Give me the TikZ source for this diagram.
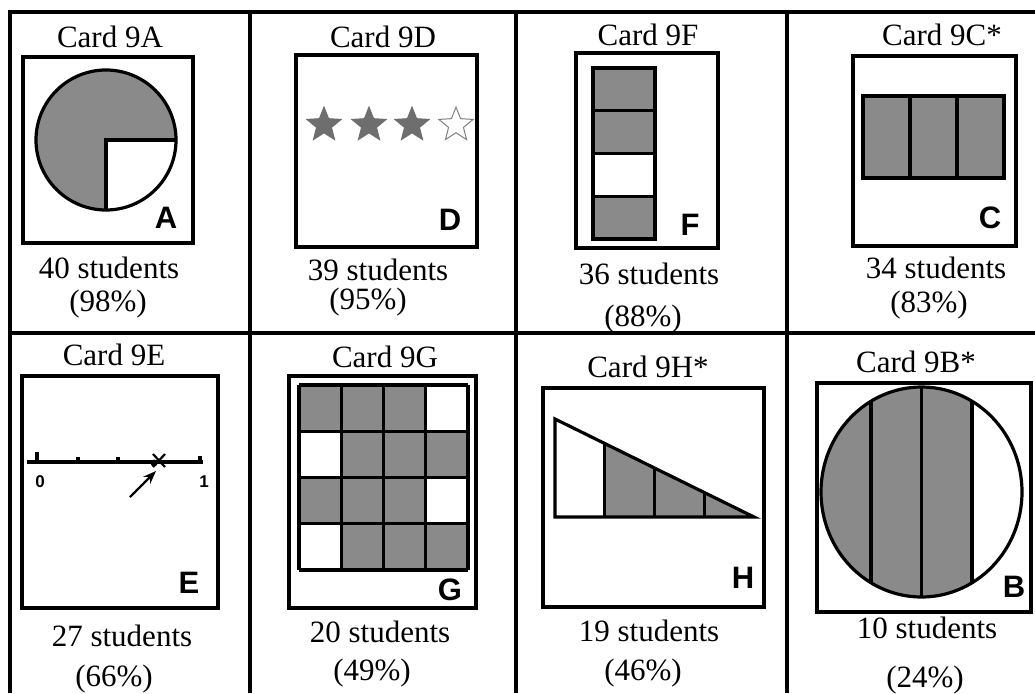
\documentclass[tikz,border=0pt]{standalone}
\usepackage{fontspec}
\setmainfont{Liberation Serif}
\newfontfamily\lettfont{Liberation Sans}
\usetikzlibrary{arrows.meta,shapes.geometric,calc}
\definecolor{cellgray}{RGB}{138,138,138}
\definecolor{stargray}{RGB}{110,110,110}

\begin{document}
\begin{tikzpicture}[x=1pt, y=-1pt, >=Stealth, line width=3.2pt,
    cardtitle/.style={font=\fontsize{31}{33}\selectfont},
    cardcount/.style={font=\fontsize{31}{33}\selectfont},
    cardletter/.style={font=\lettfont\bfseries\fontsize{31}{33}\selectfont},
    numlabel/.style={font=\lettfont\bfseries\fontsize{17}{19}\selectfont},
    fivestar/.style={star, star points=5, star point ratio=2.3, minimum size=36pt, inner sep=0pt, line width=1pt}]
    \useasboundingbox (0,0) rectangle (1035,693);

    % table lines
    \draw (10,693) -- (10,12) -- (1035,12);
    \draw (10,333) -- (1035,333);
    \foreach \x in {250,516,787}
      \draw (\x,12) -- (\x,693);

    % Card 9A: three quarters of a circle
    \node[cardtitle] (t9a) at (110,37) {Card 9A};
    \draw (23,57) rectangle (193,243);
    \fill[cellgray] (106,140) -- ++(0,70) arc[start angle=90, end angle=360, radius=70] -- cycle;
    \draw (106,140) circle[radius=70];
    \draw (176,140) -- (106,140) -- (106,210);
    \node[cardletter] (l9a) at (166,218) {A};
    \node[cardcount] (n9a) at (109,268) {40 students};
    \node[cardcount] (p9a) at (108,304) {(98\%)};

    % Card 9D: stars
    \node[cardtitle] (t9d) at (383,37) {Card 9D};
    \draw (296,55) rectangle (477,247);
    \foreach \x [count=\i] in {324,369,412}
      \node[fivestar, fill=stargray, draw=stargray] (s\i) at (\x,125) {};
    \node[fivestar, fill=white, draw=gray] (s4) at (456,125) {};
    \node[cardletter] (l9d) at (450,220) {D};
    \node[cardcount] (n9d) at (378,270) {39 students};
    \node[cardcount] (p9d) at (368,302) {(95\%)};

    % Card 9F: column of four
    \node[cardtitle] (t9f) at (648,35) {Card 9F};
    \draw (576,53) rectangle (718,248);
    \foreach \i/\f in {0/cellgray,1/cellgray,2/white,3/cellgray}
      \filldraw[fill=\f] (593,{68+42.75*\i}) rectangle (655,{68+42.75*(\i+1)});
    \node[cardletter] (l9f) at (690,225) {F};
    \node[cardcount] (n9f) at (649,274) {36 students};
    \node[cardcount] (p9f) at (643,319) {(88\%)};

    % Card 9C*: three thirds
    \node[cardtitle] (t9c) at (942,35) {Card 9C*};
    \draw (853,56) rectangle (1016,246);
    \filldraw[fill=cellgray] (863,96) rectangle (1004,178);
    \foreach \x in {910,957}
      \draw (\x,96) -- (\x,178);
    \node[cardletter] (l9c) at (990,218) {C};
    \node[cardcount] (n9c) at (936,268) {34 students};
    \node[cardcount] (p9c) at (929,305) {(83\%)};

    % Card 9E: number line
    \node[cardtitle] (t9e) at (114,355) {Card 9E};
    \draw (22,376) rectangle (218,608);
    \draw (27,462) -- (203,462);
    \foreach \x/\h in {37/10,78/5,118/5,200/6}
      \draw (\x,462) -- (\x,{462-\h});
    \draw[line width=2.2pt] (153,454) -- (165,467) (153,467) -- (165,454);
    \fill (154,463) circle[radius=3.5];
    \coordinate (arrtail) at (130,497);
    \coordinate (arrhead) at (156,471);
    \draw[->, line width=2.2pt] (arrtail) -- (arrhead);
    \node[numlabel] (zero) at (40,482) {0};
    \node[numlabel] (one) at (204,482) {1};
    \node[cardletter] (l9e) at (189,583) {E};
    \node[cardcount] (n9e) at (122,636) {27 students};
    \node[cardcount] (p9e) at (114,679) {(66\%)};

    % Card 9G: 4x4 grid
    \node[cardtitle] (t9g) at (385,357) {Card 9G};
    \draw (289,376) rectangle (476,608);
    \fill[cellgray] (299,385) rectangle (468,570);
    \foreach \c/\r in {3/0,0/1,3/2,0/3}
      \fill[white] ({299+42.25*\c},{385+46.25*\r}) rectangle ({299+42.25*(\c+1)},{385+46.25*(\r+1)});
    \foreach \i in {0,...,4} {
      \draw ({299+42.25*\i},385) -- ({299+42.25*\i},570);
      \draw (299,{385+46.25*\i}) -- (468,{385+46.25*\i});
    }
    \node[cardletter] (l9g) at (450,590) {G};
    \node[cardcount] (n9g) at (380,632) {20 students};
    \node[cardcount] (p9g) at (372,673) {(49\%)};

    % Card 9H*: triangle in four strips
    \node[cardtitle] (t9h) at (648,367) {Card 9H*};
    \draw (543,388) rectangle (764,607);
    \coordinate (htop) at (555,419);
    \coordinate (hend) at (754,517);
    \coordinate (hcorner) at (555,517);
    \fill[cellgray] ($(htop)!0.25!(hend)$) -- (hend) -- ($(hcorner)!0.25!(hend)$) -- cycle;
    \draw (htop) -- (hend) -- (hcorner) -- cycle;
    \foreach \t in {0.25,0.5,0.75}
      \draw ($(htop)!\t!(hend)$) -- ($(hcorner)!\t!(hend)$);
    \node[cardletter] (l9h) at (743,578) {H};
    \node[cardcount] (n9h) at (649,631) {19 students};
    \node[cardcount] (p9h) at (643,673) {(46\%)};

    % Card 9B*: circle in vertical strips
    \node[cardtitle] (t9b) at (916,362) {Card 9B*};
    \draw (817,383) rectangle (1031,612);
    \begin{scope}
      \clip (921.5,492) ellipse[x radius=100.5, y radius=105];
      \fill[cellgray] (815,380) rectangle (972,600);
      \foreach \x in {871,921.5,972}
        \draw (\x,380) -- (\x,600);
    \end{scope}
    \draw (921.5,492) ellipse[x radius=100.5, y radius=105];
    \node[cardletter] (l9b) at (1014,587) {B};
    \node[cardcount] (n9b) at (927,628) {10 students};
    \node[cardcount] (p9b) at (925,680) {(24\%)};
  \end{tikzpicture}
\end{document}
